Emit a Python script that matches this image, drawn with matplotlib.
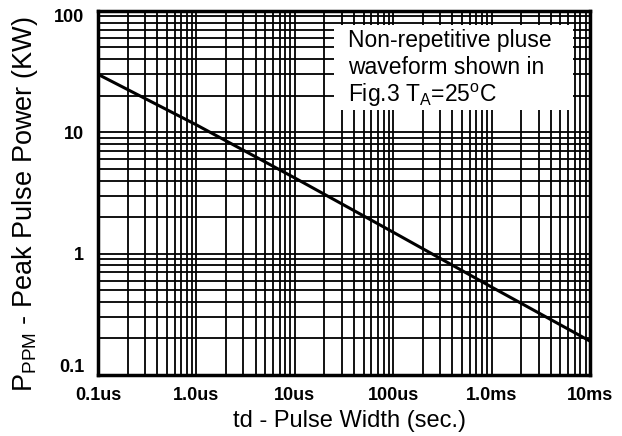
import matplotlib
matplotlib.use("Agg")
import matplotlib.pyplot as plt
from matplotlib.patches import Rectangle
from matplotlib.transforms import ScaledTranslation

plt.rcParams['font.family'] = ['Liberation Sans', 'DejaVu Sans']
plt.rcParams['mathtext.default'] = 'regular'

# Pulse width (s) and peak pulse power (kW)
td = [1e-7, 1e-6, 1e-5, 1e-4, 1e-3, 1e-2]
ppm = [30, 11.5, 4.2, 1.5, 0.53, 0.19]

x_ticks = [1e-7, 1e-6, 1e-5, 1e-4, 1e-3, 1e-2]
x_labels = ["0.1us", "1.0us", "10us", "100us", "1.0ms", "10ms"]
y_ticks = [0.1, 1, 10, 100]
y_labels = ["0.1", "1", "10", "100"]

note_lines = ["Non-repetitive pluse",
              "waveform shown in",
              r"Fig.3 T$_{A}$=25$^{o}$C"]

fig = plt.figure(figsize=(6.22, 4.36), dpi=100)
ax = fig.add_axes([0.1576, 0.140, 0.791, 0.835])

ax.set_xscale('log')
ax.set_yscale('log')
ax.set_xlim(1e-7, 1e-2)
ax.set_ylim(0.1, 100)

# heavy log grid, majors and minors alike
ax.set_axisbelow(True)
ax.grid(True, which='both', color='black', linewidth=1.3)

ax.plot(td, ppm, color='black', linewidth=2.2, zorder=3)

ax.set_xticks(x_ticks)
ax.set_xticklabels(x_labels, fontsize=13, fontweight='bold')
ax.set_yticks(y_ticks)
ax.set_yticklabels(y_labels, fontsize=13, fontweight='bold')
ax.tick_params(which='both', length=0)
ax.tick_params(axis='x', pad=9)
ax.tick_params(axis='y', pad=10)

# pull the end labels on the y axis inwards a little
ylab = ax.get_yticklabels()
ylab[0].set_transform(ylab[0].get_transform() + ScaledTranslation(0, 9 / 100, fig.dpi_scale_trans))
ylab[-1].set_transform(ylab[-1].get_transform() + ScaledTranslation(0, -5 / 100, fig.dpi_scale_trans))

for side in ax.spines.values():
    side.set_linewidth(2.5)

ax.set_xlabel("td - Pulse Width (sec.)", fontsize=17)
ax.xaxis.set_label_coords(0.512, -0.095)
ax.set_ylabel(r"P$_{PPM}$ - Peak Pulse Power (KW)", fontsize=19.5)
ax.yaxis.set_label_coords(-0.118, 0.47)

# white note box over the grid
ax.add_patch(Rectangle((0.48, 0.728), 0.485, 0.232, transform=ax.transAxes,
                       facecolor='white', edgecolor='none', zorder=2))
for txt, yy in zip(note_lines, [0.901, 0.827, 0.751]):
    ax.text(0.508, yy, txt, transform=ax.transAxes, fontsize=16.5,
            va='baseline', ha='left', zorder=4)

fig.savefig("out.png", dpi=100)
